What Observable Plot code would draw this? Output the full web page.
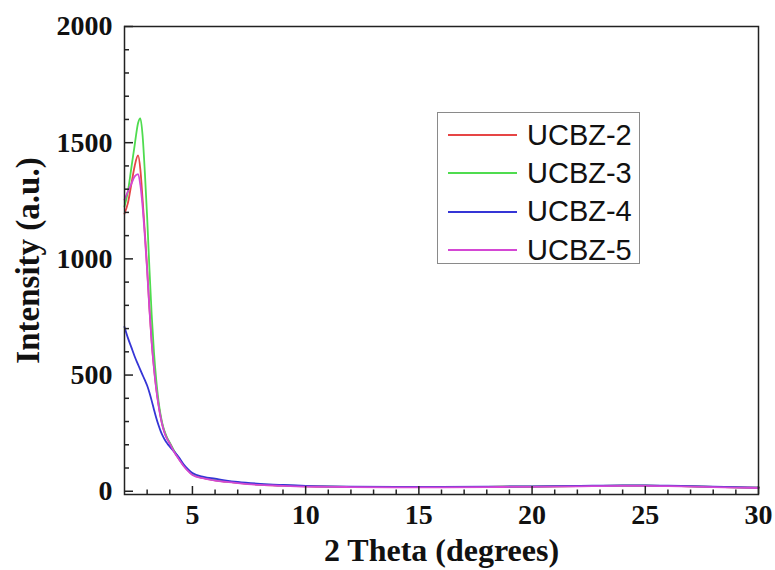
<!DOCTYPE html>
<html>
<head>
<meta charset="utf-8">
<script src="https://cdn.jsdelivr.net/npm/d3@7"></script>
<script src="https://cdn.jsdelivr.net/npm/@observablehq/plot@0.6"></script>
<style>
  html, body { margin: 0; padding: 0; background: #fff; }
  #wrap { position: relative; width: 775px; height: 570px; }
  #legend {
    position: absolute; left: 437px; top: 112px; width: 203px; height: 152px;
    border: 1.5px solid #8a8a8a; box-sizing: border-box; background: #fff;
    font-family: "Liberation Sans", Arial, sans-serif; font-size: 29px; color: #111;
    padding-top: 3px;
  }
  #legend .row { display: flex; align-items: center; height: 38.3px; }
  #legend .sw { width: 69px; height: 0; border-top: 2px solid; margin-left: 10px; margin-right: 10px; }
</style>
</head>
<body>
<div id="wrap"><div id="legend"></div></div>
<script>
// 2 Theta grid (degrees)
const twoTheta = [2.0, 2.15, 2.3, 2.45, 2.6, 2.7, 2.8, 2.9, 3.0, 3.1, 3.2, 3.3, 3.4, 3.5, 3.6, 3.7, 3.8, 3.9, 4.0, 4.2, 4.4, 4.6, 4.8, 5.0, 5.5, 6.0, 6.5, 7.0, 8.0, 9.0, 10, 11, 12, 14, 16, 18, 20, 22, 24, 25, 26, 27, 28, 29, 30];

const ucbz2 = [1195, 1240, 1320, 1400, 1445, 1385, 1255, 1110, 960, 790, 645, 535, 445, 375, 318, 275, 245, 224, 207, 170, 140, 112, 90, 72, 56, 47, 41, 36, 28, 24, 21, 20, 19, 18, 18, 19, 20, 22, 24, 24, 23, 21, 19, 17, 15];
const ucbz3 = [1225, 1290, 1390, 1490, 1585, 1605, 1530, 1370, 1180, 960, 760, 600, 480, 390, 325, 280, 250, 226, 209, 172, 141, 113, 91, 73, 57, 48, 42, 37, 29, 25, 22, 20, 19, 18, 18, 19, 20, 22, 24, 24, 23, 21, 19, 17, 15];
const ucbz4 = [707, 660, 620, 580, 545, 522, 500, 478, 455, 425, 390, 352, 316, 285, 258, 236, 218, 204, 192, 170, 146, 117, 95, 78, 62, 54, 46, 40, 32, 27, 23, 21, 20, 19, 19, 20, 21, 23, 25, 25, 24, 22, 20, 18, 16];
const ucbz5 = [1255, 1290, 1322, 1355, 1365, 1318, 1225, 1095, 950, 785, 640, 530, 442, 372, 316, 273, 243, 222, 205, 168, 138, 110, 88, 70, 55, 46, 40, 35, 27, 23, 20, 19, 18, 17, 17, 18, 19, 21, 23, 23, 22, 20, 18, 16, 14];

const seriesNames = ["UCBZ-2", "UCBZ-3", "UCBZ-4", "UCBZ-5"];
const seriesColors = ["#e64545", "#4fdc4f", "#3535d6", "#d447d4"];
const seriesValues = [ucbz2, ucbz3, ucbz4, ucbz5];

const xMajorTicks = [5, 10, 15, 20, 25, 30];
const xMinorTicks = d3.range(3, 30).filter(d => d % 5 !== 0);
const yMajorTicks = [0, 500, 1000, 1500, 2000];
const yMinorTicks = d3.range(100, 2000, 100).filter(d => d % 500 !== 0);

const xTitle = "2 Theta (degrees)";
const yTitle = "Intensity (a.u.)";

const rows = [];
seriesNames.forEach((name, i) => {
  twoTheta.forEach((x, j) => rows.push({series: name, x, y: seriesValues[i][j]}));
});

const W = 775, H = 570;
const mL = 124, mR = 17, mT = 26, mB = 76;
const plotW = W - mL - mR, plotH = H - mT - mB;

const chart = Plot.plot({
  width: W, height: H,
  marginLeft: mL, marginRight: mR, marginTop: mT, marginBottom: mB,
  style: {fontFamily: "'Liberation Serif', 'Times New Roman', serif", fontWeight: "bold", fontSize: "28px", color: "#111", background: "#fff"},
  x: {domain: [2, 30]},
  y: {domain: [-14, 2000]},
  color: {domain: seriesNames, range: seriesColors},
  marks: [
    Plot.line(rows, {x: "x", y: "y", z: "series", stroke: "series", strokeWidth: 1.8, curve: "monotone-x"}),
    Plot.frame({stroke: "#222", strokeWidth: 1.5}),
    Plot.tickX(xMajorTicks, {x: d => d, insetTop: plotH - 8, stroke: "#222", strokeWidth: 1.5}),
    Plot.tickX(xMinorTicks, {x: d => d, insetTop: plotH - 4.5, stroke: "#222", strokeWidth: 1.5}),
    Plot.tickY(yMajorTicks, {y: d => d, insetRight: plotW - 9, stroke: "#222", strokeWidth: 1.5}),
    Plot.tickY(yMinorTicks, {y: d => d, insetRight: plotW - 5, stroke: "#222", strokeWidth: 1.5}),
    Plot.axisX(xMajorTicks, {tickSize: 0, tickPadding: 10, label: null, tickFormat: d3.format("d"), fontSize: 28, fontWeight: "bold"}),
    Plot.axisY(yMajorTicks, {tickSize: 0, tickPadding: 12, label: null, tickFormat: d3.format("d"), fontSize: 28, fontWeight: "bold"}),
    Plot.text([xTitle], {text: d => d, frameAnchor: "bottom", dy: 56, fontSize: 32, fontWeight: "bold", textAnchor: "middle", lineAnchor: "middle"}),
    Plot.text([yTitle], {text: d => d, frameAnchor: "left", dx: -96, rotate: -90, fontSize: 33, fontWeight: "bold", textAnchor: "middle", lineAnchor: "middle"})
  ]
});

document.getElementById("wrap").prepend(chart);

const legend = document.getElementById("legend");
seriesNames.forEach((name, i) => {
  const row = document.createElement("div");
  row.className = "row";
  const sw = document.createElement("span");
  sw.className = "sw";
  sw.style.borderTopColor = seriesColors[i];
  const label = document.createElement("span");
  label.textContent = name;
  row.appendChild(sw);
  row.appendChild(label);
  legend.appendChild(row);
});
</script>
</body>
</html>
